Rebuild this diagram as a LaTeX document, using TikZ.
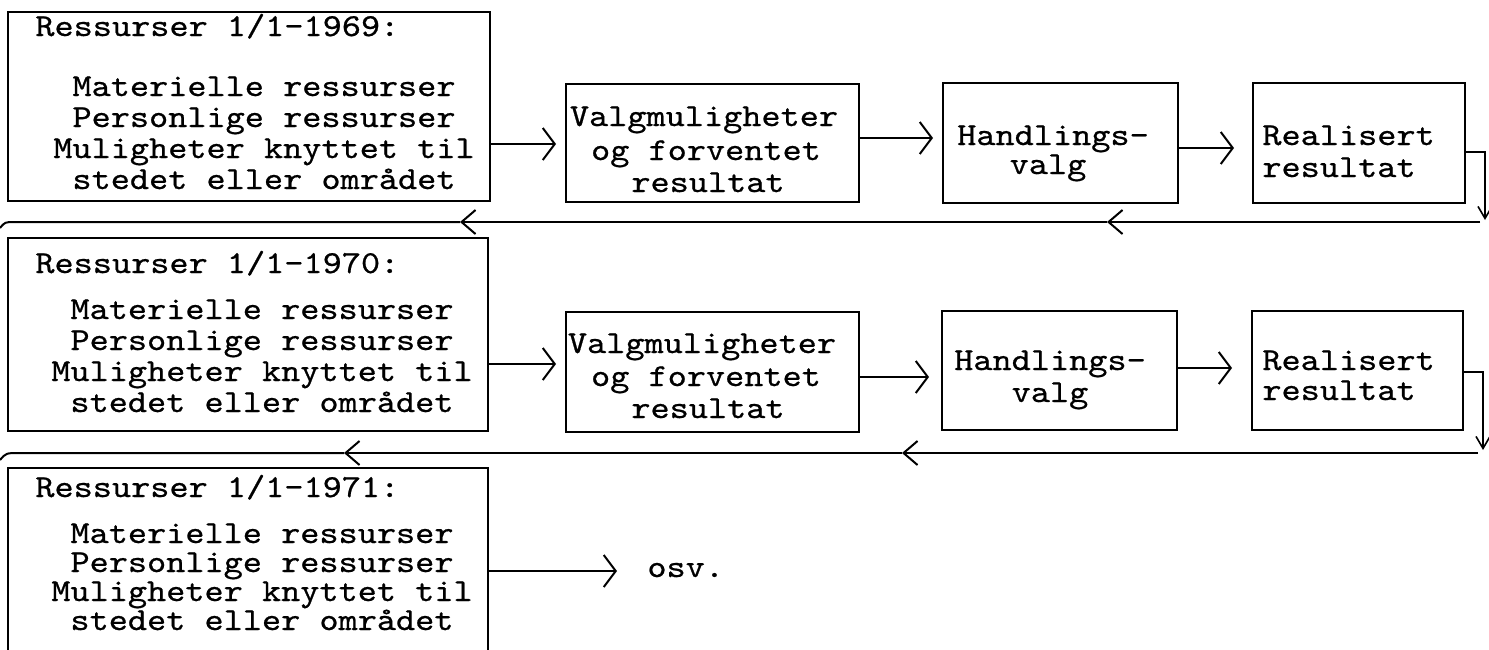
\documentclass[tikz,border=0pt]{standalone}
\usepackage{fontspec}
\usepackage{graphicx}
\usetikzlibrary{arrows.meta,fit}
\newfontfamily\twfont{lmmono10-regular.otf}[FakeBold=0.6]
\newcommand{\tws}[1]{\scalebox{1.14}[1]{#1}}
\tikzset{
  box/.style={draw, line width=1pt, inner sep=0pt},
  txt/.style={font=\twfont\fontsize{16}{19}\selectfont, inner sep=0pt},
  conn/.style={line width=1pt, -{Straight Barb[length=6pt,width=16pt,line width=1pt]}},
  back/.style={line width=1pt, -{Straight Barb[length=7pt,width=12pt,line width=1pt]}},
  down/.style={line width=0.8pt, -{Straight Barb[length=6pt,width=7pt,line width=0.8pt]}},
  plain/.style={line width=1pt},
}
\begin{document}
\begin{tikzpicture}[x=0.5pt,y=-0.5pt]
\useasboundingbox (0,0) rectangle (1489,649);

% ---------- boxes ----------
\node[box, fit={(8,12) (490,201)}] (A1) {};
\node[box, fit={(566,84) (859,202)}] (B1) {};
\node[box, fit={(943,83) (1178,203)}] (C1) {};
\node[box, fit={(1253,83) (1465,203)}] (D1) {};

\node[box, fit={(8,238) (488,431)}] (A2) {};
\node[box, fit={(566,312) (859,432)}] (B2) {};
\node[box, fit={(942,311) (1177,430)}] (C2) {};
\node[box, fit={(1252,311) (1463,430)}] (D2) {};

\node[box, fit={(8,468) (488,662)}] (A3) {};

% ---------- texts row 1 ----------
\node[txt, anchor=base west] (a1h) at (35,36) {\tws{Ressurser 1/1-1969:}};
\node[txt, anchor=base] (a1l1) at (264,96) {\tws{Materielle ressurser}};
\node[txt, anchor=base] (a1l2) at (264,127) {\tws{Personlige ressurser}};
\node[txt, anchor=base] (a1l3) at (264,158) {\tws{Muligheter knyttet til}};
\node[txt, anchor=base] (a1l4) at (264,189) {\tws{stedet eller området}};

\node[txt, anchor=base] (b1l1) at (704,126) {\tws{Valgmuligheter}};
\node[txt, anchor=base] (b1l2) at (706,160) {\tws{og forventet}};
\node[txt, anchor=base] (b1l3) at (708,192) {\tws{resultat}};

\node[txt, anchor=base] (c1l1) at (1053,145) {\tws{Handlings-}};
\node[txt, anchor=base] (c1l2) at (1048,174) {\tws{valg}};

\node[txt, anchor=base west] (d1l1) at (1262,145) {\tws{Realisert}};
\node[txt, anchor=base west] (d1l2) at (1262,177) {\tws{resultat}};

% ---------- texts row 2 ----------
\node[txt, anchor=base west] (a2h) at (35,273) {\tws{Ressurser 1/1-1970:}};
\node[txt, anchor=base] (a2l1) at (262,319) {\tws{Materielle ressurser}};
\node[txt, anchor=base] (a2l2) at (262,350) {\tws{Personlige ressurser}};
\node[txt, anchor=base] (a2l3) at (262,381) {\tws{Muligheter knyttet til}};
\node[txt, anchor=base] (a2l4) at (262,412) {\tws{stedet eller området}};

\node[txt, anchor=base] (b2l1) at (702,353) {\tws{Valgmuligheter}};
\node[txt, anchor=base] (b2l2) at (706,386) {\tws{og forventet}};
\node[txt, anchor=base] (b2l3) at (708,418) {\tws{resultat}};

\node[txt, anchor=base] (c2l1) at (1050,370) {\tws{Handlings-}};
\node[txt, anchor=base] (c2l2) at (1050,402) {\tws{valg}};

\node[txt, anchor=base west] (d2l1) at (1262,370) {\tws{Realisert}};
\node[txt, anchor=base west] (d2l2) at (1262,400) {\tws{resultat}};

% ---------- texts row 3 ----------
\node[txt, anchor=base west] (a3h) at (35,497) {\tws{Ressurser 1/1-1971:}};
\node[txt, anchor=base] (a3l1) at (262,543) {\tws{Materielle ressurser}};
\node[txt, anchor=base] (a3l2) at (262,572) {\tws{Personlige ressurser}};
\node[txt, anchor=base] (a3l3) at (262,601) {\tws{Muligheter knyttet til}};
\node[txt, anchor=base] (a3l4) at (262,630) {\tws{stedet eller området}};

\node[txt, anchor=base west] (osv) at (647,577) {\tws{osv.}};

% ---------- forward arrows ----------
\draw[conn, shorten >=4.5pt] (A1.east |- 0,144) -- (B1.west |- 0,144);
\draw[conn, shorten >=4.5pt] (B1.east |- 0,138) -- (C1.west |- 0,138);
\draw[conn, shorten >=9pt] (C1.east |- 0,148) -- (D1.west |- 0,148);

\draw[conn, shorten >=4.5pt] (A2.east |- 0,364) -- (B2.west |- 0,364);
\draw[conn, shorten >=6pt] (B2.east |- 0,377) -- (C2.west |- 0,377);
\draw[conn, shorten >=9.5pt] (C2.east |- 0,368) -- (D2.west |- 0,368);

\draw[conn, shorten >=15pt] (A3.east |- 0,571) -- (osv.west |- 0,571);

% ---------- feedback 1 ----------
\coordinate (f1r) at (1485,152);
\coordinate (f1d) at (1485,220);
\coordinate (f1a) at (1480,222);
\coordinate (f1b) at (1107,222);
\coordinate (f1c) at (460,222);
\coordinate (f1e) at (15,222);
\coordinate (f1f) at (0,228);
\draw[down] (D1.east |- f1r) -- (f1r) -- (f1d);
\draw[back] (f1a) -- (f1b);
\draw[back] (f1b) -- (f1c);
\draw[plain] (f1c) -- (f1e) .. controls (5,222) .. (f1f);

% ---------- feedback 2 ----------
\coordinate (f2r) at (1483,372);
\coordinate (f2d) at (1483,450);
\coordinate (f2a) at (1478,453);
\coordinate (f2b) at (902,453);
\coordinate (f2c) at (344,453);
\coordinate (f2e) at (20,453);
\coordinate (f2f) at (0,460);
\draw[down] (D2.east |- f2r) -- (f2r) -- (f2d);
\draw[back] (f2a) -- (f2b);
\draw[back] (f2b) -- (f2c);
\draw[plain] (f2c) -- (f2e) .. controls (6,453) .. (f2f);
\end{tikzpicture}
\end{document}
